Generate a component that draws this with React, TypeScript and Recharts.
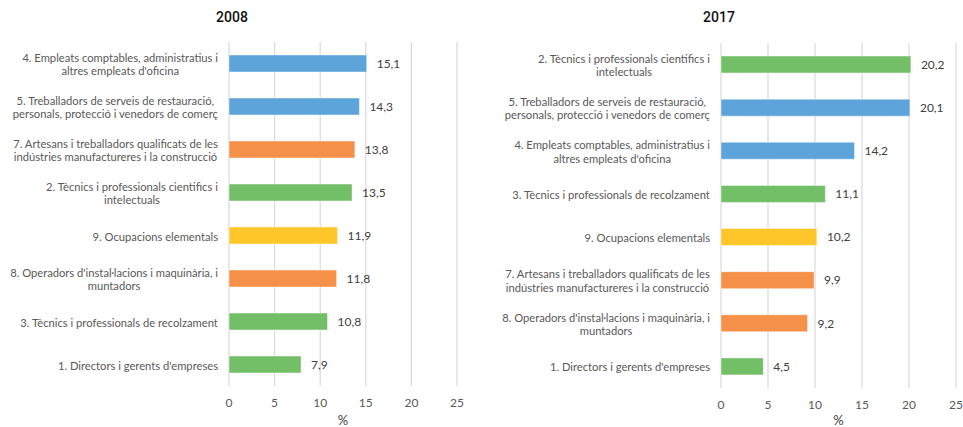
import { BarChart, Bar, XAxis, YAxis, CartesianGrid, Cell, LabelList } from 'recharts';

const FONT = 'Lato, "Open Sans", sans-serif';
const CAT_SIZE = 11.2;

const BLUE = '#5DA4DA';
const ORANGE = '#F6914A';
const GREEN = '#73BF67';
const YELLOW = '#FFC629';

const categories2008 = [
    "4. Empleats comptables, administratius i\naltres empleats d'oficina",
    '5. Treballadors de serveis de restauració,\npersonals, protecció i venedors de comerç',
    '7. Artesans i treballadors qualificats de les\nindústries manufactureres i la construcció',
    '2. Tècnics i professionals cientifics i\nintelectuals',
    '9. Ocupacions elementals',
    "8. Operadors d'instal·lacions i maquinària, i\nmuntadors",
    '3. Tècnics i professionals de recolzament',
    "1. Directors i gerents d'empreses",
];
const values2008 = [15.1, 14.3, 13.8, 13.5, 11.9, 11.8, 10.8, 7.9];
const colors2008 = [BLUE, BLUE, ORANGE, GREEN, YELLOW, ORANGE, GREEN, GREEN];

const categories2017 = [
    '2. Tècnics i professionals cientifics i\nintelectuals',
    '5. Treballadors de serveis de restauració,\npersonals, protecció i venedors de comerç',
    "4. Empleats comptables, administratius i\naltres empleats d'oficina",
    '3. Tècnics i professionals de recolzament',
    '9. Ocupacions elementals',
    '7. Artesans i treballadors qualificats de les\nindústries manufactureres i la construcció',
    "8. Operadors d'instal·lacions i maquinària, i\nmuntadors",
    "1. Directors i gerents d'empreses",
];
const values2017 = [20.2, 20.1, 14.2, 11.1, 10.2, 9.9, 9.2, 4.5];
const colors2017 = [GREEN, BLUE, BLUE, GREEN, YELLOW, ORANGE, ORANGE, GREEN];

const xTicks = [0, 5, 10, 15, 20, 25];

let ctx: CanvasRenderingContext2D | null = null;
function measure(s: string) {
    if (!ctx) {
        ctx = document.createElement('canvas').getContext('2d');
        if (ctx) ctx.font = `${CAT_SIZE}px ${FONT}`;
    }
    return ctx ? ctx.measureText(s).width : s.length * 5;
}

function CategoryTick(props: any) {
    const { x, y, payload } = props;
    const lines: string[] = String(payload.value).split('\n');
    const w = Math.max(...lines.map(measure));
    const cx = x - w / 2;
    const lh = 13.5;
    const startY = y - ((lines.length - 1) * lh) / 2;
    return (
        <text x={cx} y={startY} textAnchor="middle" fill="#595959" fontSize={CAT_SIZE} fontFamily={FONT} dominantBaseline="central">
            {lines.map((l, i) => (
                <tspan key={i} x={cx} y={startY + i * lh}>{l}</tspan>
            ))}
        </text>
    );
}

const fmt = (v: any) => Number(v).toFixed(1).replace('.', ',');

function Panel({ title, cats, vals, cols, width, yWidth, top, right, xHeight, titleX }: any) {
    const data = cats.map((name: string, i: number) => ({ name, value: vals[i] }));
    return (
        <div style={{ position: 'relative', width, height: 427 }}>
            <div style={{ position: 'absolute', left: titleX - 40, width: 80, top: 9, textAlign: 'center', fontFamily: 'Roboto, sans-serif', fontWeight: 500, fontSize: 14, color: '#111' }}>
                {title}
            </div>
            <BarChart width={width} height={427} data={data} layout="vertical" margin={{ top, right, bottom: 0, left: 0 }}>
                <CartesianGrid horizontal={false} stroke="#d9d9d9" strokeWidth={1.2} />
                <XAxis
                    type="number"
                    domain={[0, 25]}
                    ticks={xTicks}
                    axisLine={false}
                    tickLine={false}
                    height={xHeight}
                    tickSize={6}
                    tickMargin={6}
                    tick={{ fill: '#595959', fontSize: 12, fontFamily: FONT }}
                    label={{ value: '%', position: 'insideBottom', offset: 2, fill: '#404040', fontSize: 13, fontFamily: FONT }}
                />
                <YAxis
                    type="category"
                    dataKey="name"
                    width={yWidth}
                    axisLine={false}
                    tickLine={false}
                    tickSize={6}
                    tickMargin={5}
                    interval={0}
                    tick={<CategoryTick />}
                />
                <Bar dataKey="value" barSize={17} isAnimationActive={false} stroke="rgba(255,255,255,0.45)" strokeWidth={1}>
                    {data.map((_: any, i: number) => (
                        <Cell key={i} fill={cols[i]} />
                    ))}
                    <LabelList dataKey="value" position="right" offset={10} formatter={fmt} fill="#404040" fontSize={12} fontFamily={FONT} />
                </Bar>
            </BarChart>
        </div>
    );
}

export default function App() {
    return (
        <div style={{ position: 'absolute', left: 0, top: 0, width: 963, height: 427, background: '#fff', display: 'flex' }}>
            <Panel title="2008" cats={categories2008} vals={values2008} cols={colors2008} width={480} yWidth={229} top={42} right={23} xHeight={41} titleX={232} />
            <Panel title="2017" cats={categories2017} vals={values2017} cols={colors2017} width={483} yWidth={241} top={43} right={7} xHeight={39} titleX={239} />
        </div>
    );
}
